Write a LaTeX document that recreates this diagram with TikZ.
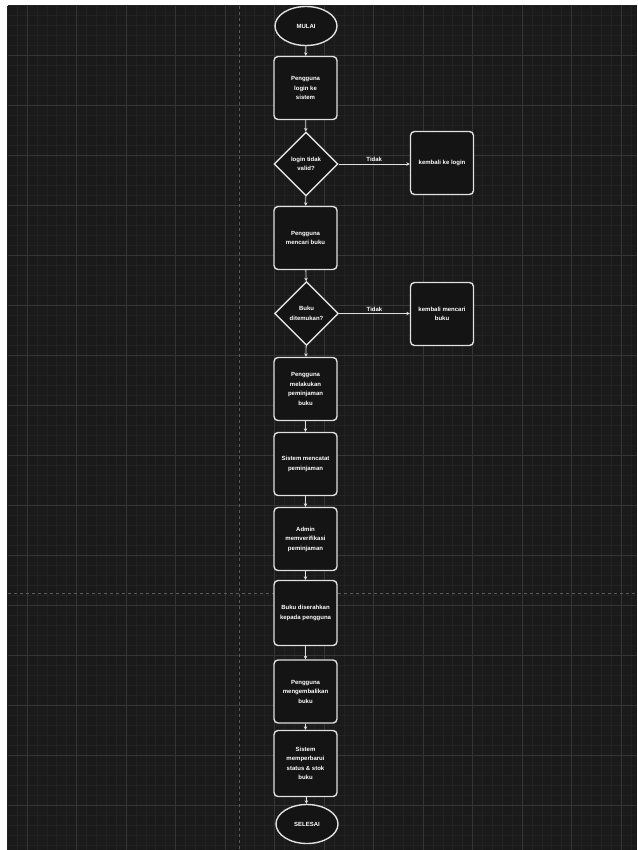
\documentclass[tikz,border=0pt]{standalone}
\usepackage{fontspec}
\setmainfont{Liberation Sans}
\usetikzlibrary{shapes.geometric,arrows.meta}
\definecolor{bgc}{HTML}{1A1A1A}
\definecolor{minorc}{HTML}{222222}
\definecolor{majorc}{HTML}{353535}
\definecolor{dashc}{HTML}{5A5A5A}
\definecolor{strokec}{HTML}{E0E0E0}
\definecolor{fillc}{HTML}{141414}
\tikzset{
  base/.style={draw=strokec, line width=1.4pt, fill=fillc, text=white, align=center,
    font=\fontsize{6}{9.5}\selectfont\bfseries, inner sep=0pt},
  procbox/.style={base, rounded corners=4pt, minimum width=63pt, minimum height=63pt},
  decbox/.style={base, diamond, minimum width=64pt, minimum height=64pt, aspect=1},
  termbox/.style={base, ellipse, minimum width=62pt, minimum height=39pt},
  conn/.style={draw=strokec, line width=0.9pt, -{Stealth[length=3.5pt,width=3.5pt]}},
  lbl/.style={text=white, font=\fontsize{6}{7}\selectfont\bfseries, inner sep=1.5pt}
}
\begin{document}
\begin{tikzpicture}[x=1pt,y=-1pt]
\useasboundingbox (0,0) rectangle (637,850);
\fill[white] (0,0) rectangle (637,850);
\fill[bgc] (8,6) rectangle (637,850);
% minor grid
\foreach \i in {0,...,64} {\draw[minorc, line width=0.5pt] ({27+9.9*(\i-2)},6) -- ({27+9.9*(\i-2)},850);}
\foreach \j in {0,...,85} {\draw[minorc, line width=0.5pt] (8,{5+10*\j}) -- (637,{5+10*\j});}
% major grid
\foreach \i in {0,...,12} {\draw[majorc, line width=0.7pt] ({27+49.5*\i},6) -- ({27+49.5*\i},850);}
\foreach \j in {1,...,16} {\draw[majorc, line width=0.7pt] (8,{5+50*\j}) -- (637,{5+50*\j});}
% page break lines
\draw[dashc, line width=1pt, dash pattern=on 3pt off 3pt] (239,6) -- (239,850);
\draw[dashc, line width=1pt, dash pattern=on 3pt off 3pt] (8,593) -- (637,593);

% nodes
\node[termbox] (start) at (306,26) {MULAI};
\node[procbox] (b1) at (305.5,88) {Pengguna\\login ke\\sistem};
\node[decbox] (d1) at (306,164) {login tidak\\valid?};
\node[procbox] (s1) at (442,163) {kembali ke login};
\node[procbox] (b2) at (305.5,238) {Pengguna\\mencari buku};
\node[decbox] (d2) at (306.5,313.5) {Buku\\ditemukan?};
\node[procbox] (s2) at (442,314) {kembali mencari\\buku};
\node[procbox] (b3) at (305.5,389) {Pengguna\\melakukan\\peminjaman\\buku};
\node[procbox] (b4) at (305.5,464) {Sistem mencatat\\peminjaman};
\node[procbox] (b5) at (305.5,539) {Admin\\memverifikasi\\peminjaman};
\node[procbox, minimum height=65pt] (b6) at (305.5,613) {Buku diserahkan\\kepada pengguna};
\node[procbox] (b7) at (305.5,691.5) {Pengguna\\mengembalikan\\buku};
\node[procbox, minimum height=66pt] (b8) at (305.5,763.5) {Sistem\\memperbarui\\status \& stok\\buku};
\node[termbox] (end) at (307,824) {SELESAI};

% connectors
\draw[conn] (start) -- (b1);
\draw[conn] (b1) -- (d1);
\draw[conn] (d1) -- (b2);
\draw[conn] (d1) -- node[lbl, above, pos=0.5] {Tidak} (s1.west |- d1.east);
\draw[conn] (b2) -- (d2);
\draw[conn] (d2) -- node[lbl, above, pos=0.5] {Tidak} (s2.west |- d2.east);
\draw[conn] (d2) -- (b3);
\draw[conn] (b3) -- (b4);
\draw[conn] (b4) -- (b5);
\draw[conn] (b5) -- (b6);
\draw[conn] (b6) -- (b7);
\draw[conn] (b7) -- (b8);
\draw[conn] (b8) -- (end);
\end{tikzpicture}
\end{document}
